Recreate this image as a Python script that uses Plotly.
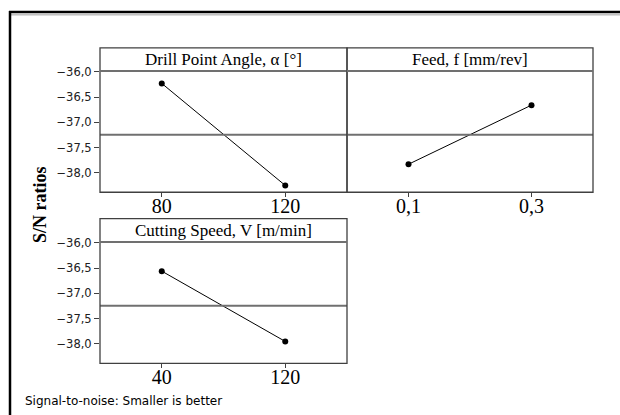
import plotly.graph_objects as go

# Main effects plot for S/N ratios (smaller is better)
factor_names = ["Drill Point Angle, α [°]", "Feed, f [mm/rev]", "Cutting Speed, V [m/min]"]
level_labels = [["80", "120"], ["0,1", "0,3"], ["40", "120"]]
sn_angle = [-36.23, -38.25]
sn_feed = [-37.83, -36.66]
sn_speed = [-36.56, -37.95]
y_ticks = [-36.0, -36.5, -37.0, -37.5, -38.0]

series = [sn_angle, sn_feed, sn_speed]
all_vals = sn_angle + sn_feed + sn_speed
grand_mean = sum(all_vals) / len(all_vals)

W, H = 620, 415


def px(x):
    return x / W


def py(y):
    return 1 - y / H


# panel boxes in pixels: (left, right, plot_top, plot_bottom, strip_top)
panels = [
    (100, 347, 66, 189, 42.5),
    (347, 593, 66, 189, 42.5),
    (100, 347, 239.5, 362.7, 215.7),
]
yrange = [-38.385, -35.985]

fig = go.Figure()
shapes = []
annotations = []

for i, (vals, labels, name, box) in enumerate(zip(series, level_labels, factor_names, panels)):
    n = i + 1
    xa = "xaxis" if n == 1 else f"xaxis{n}"
    ya = "yaxis" if n == 1 else f"yaxis{n}"
    xr = "x" if n == 1 else f"x{n}"
    yr = "y" if n == 1 else f"y{n}"
    left, right, top, bottom, stop = box

    fig.add_trace(go.Scatter(
        x=[1, 2], y=vals, xaxis=xr, yaxis=yr, mode="lines+markers",
        line=dict(color="black", width=1),
        marker=dict(color="black", size=6),
        showlegend=False, hoverinfo="skip",
    ))

    fig.update_layout({
        xa: dict(domain=[px(left), px(right)], range=[0.5, 2.5],
                 tickvals=[1, 2], ticktext=labels, ticks="outside", ticklen=4,
                 tickcolor="#404040", showgrid=False, zeroline=False, showline=False,
                 ticklabelstandoff=-8,
                 tickfont=dict(family="Liberation Serif", size=20, color="black"),
                 anchor=yr, fixedrange=True),
        ya: dict(domain=[py(bottom), py(top)], range=yrange,
                 tickvals=y_ticks, tickformat=".1f",
                 ticks="outside" if n != 2 else "", ticklen=5,
                 showticklabels=(n != 2), tickcolor="#404040",
                 showgrid=False, zeroline=False, showline=False,
                 tickfont=dict(family="DejaVu Sans", size=11.5, color="#202020"),
                 anchor=xr, fixedrange=True),
    })

    # overall mean reference line
    shapes.append(dict(type="line", xref=f"{xr} domain", yref=yr, x0=0, x1=1,
                       y0=grand_mean, y1=grand_mean,
                       line=dict(color="#707070", width=2)))
    # panel frame including the strip
    shapes.append(dict(type="rect", xref="paper", yref="paper",
                       x0=px(left), x1=px(right), y0=py(bottom), y1=py(stop),
                       line=dict(color="#404040", width=1.3)))
    # strip separator
    shapes.append(dict(type="line", xref="paper", yref="paper",
                       x0=px(left), x1=px(right), y0=py(top), y1=py(top),
                       line=dict(color="#707070", width=2)))
    annotations.append(dict(text=name, xref="paper", yref="paper",
                            x=px((left + right) / 2), y=py((stop + top) / 2),
                            xanchor="center", yanchor="middle", showarrow=False,
                            font=dict(family="Liberation Serif", size=17, color="black")))

# outer frame: double top rule and left rule
shapes.append(dict(type="line", xref="paper", yref="paper", x0=px(9), x1=1,
                   y0=py(6), y1=py(6), line=dict(color="black", width=2.5)))
shapes.append(dict(type="line", xref="paper", yref="paper", x0=px(11), x1=1,
                   y0=py(9), y1=py(9), line=dict(color="#a0a0a0", width=1)))
shapes.append(dict(type="line", xref="paper", yref="paper", x0=px(10), x1=px(10),
                   y0=py(5), y1=0, line=dict(color="black", width=2.5)))

annotations.append(dict(text="<b>S/N ratios</b>", xref="paper", yref="paper",
                        x=px(40), y=py(202), textangle=-90, showarrow=False,
                        xanchor="center", yanchor="middle",
                        font=dict(family="Liberation Serif", size=18, color="black")))
annotations.append(dict(text="Signal-to-noise: Smaller is better", xref="paper", yref="paper",
                        x=px(23), y=py(401), xanchor="left", yanchor="middle",
                        showarrow=False,
                        font=dict(family="DejaVu Sans", size=12, color="black")))

fig.update_layout(
    width=W, height=H, margin=dict(l=0, r=0, t=0, b=0),
    paper_bgcolor="white", plot_bgcolor="white",
    separators=",.", shapes=shapes, annotations=annotations,
)

fig.write_html("out.html")
